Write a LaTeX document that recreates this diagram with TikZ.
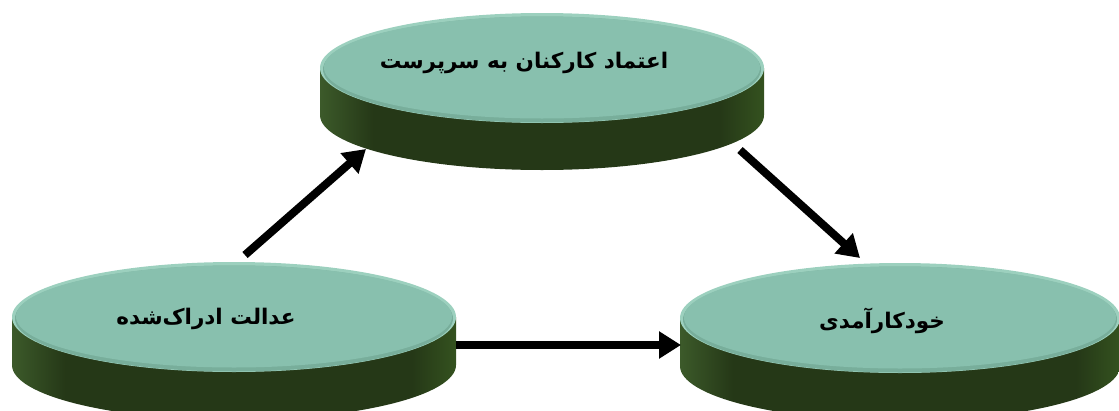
\documentclass[tikz,border=0pt]{standalone}
\usepackage{fontspec}
\usetikzlibrary{arrows.meta}
\TeXXeTstate=1
\newfontfamily\arabicfont[Script=Arabic]{DejaVu Sans}
\definecolor{facegreen}{HTML}{88C0AE}
\definecolor{facerim}{HTML}{9CD0BE}
\definecolor{faceshade}{HTML}{78AE9B}
\definecolor{sidedark}{HTML}{253817}
\definecolor{sideleft}{HTML}{3C5A2A}
\definecolor{sideright}{HTML}{34521F}
% side of a disc: lighter only near its two ends
\pgfdeclarehorizontalshading{discside}{100bp}{
  color(0bp)=(sideleft); color(25bp)=(sideleft);
  color(31bp)=(sidedark); color(70bp)=(sidedark);
  color(75bp)=(sideright); color(100bp)=(sideright)}
\tikzset{
  disclabel/.style={font=\arabicfont\bfseries\fontsize{21.5}{26}\selectfont, text=black, inner sep=0pt},
  flow/.style={line width=8pt, -{Triangle[length=22pt,width=26pt]}, black}
}
% a flat cylinder: centre of the top face, radii, thickness
\newcommand\greendisc[5]{%
  \shade[shading=discside]
    (#1-#3,#2) -- (#1-#3,#2+#5)
    arc[start angle=180, end angle=0, x radius=#3, y radius=#4]
    -- (#1+#3,#2) -- cycle;
  \fill[facerim] (#1,#2) ellipse[x radius=#3, y radius=#4];
  \fill[faceshade] (#1,#2+1.5) ellipse[x radius=#3-3, y radius=#4-2];
  \fill[facegreen] (#1,#2-0.5) ellipse[x radius=#3-4, y radius=#4-4];
}
\begin{document}
\begin{tikzpicture}[x=1pt, y=-1pt]
  \useasboundingbox (0,0) rectangle (1119,410);
  \begin{scope}
    \clip (0,0) rectangle (1119,410);
    \greendisc{542}{68}{222}{55}{47}
    \greendisc{234}{317}{222}{55}{48}
    \greendisc{900}{318}{220}{55}{48}
  \end{scope}

  \node[disclabel] (trust) at (524,63) {\beginR اعتماد کارکنان به سرپرست\endR};
  \node[disclabel] (justice) at (206,319) {\beginR عدالت ادراک‌شده\endR};
  \node[disclabel] (efficacy) at (882,321) {\beginR خودکارآمدی\endR};

  \coordinate (j-up) at (245,255);
  \coordinate (t-in) at (366,149);
  \coordinate (t-out) at (740,150);
  \coordinate (e-in) at (860,258);
  \coordinate (j-right) at (456,345);
  \coordinate (e-left) at (681,345);

  \draw[flow] (j-up) -- (t-in);
  \draw[flow] (t-out) -- (e-in);
  \draw[flow] (j-right) -- (e-left);
\end{tikzpicture}
\end{document}
